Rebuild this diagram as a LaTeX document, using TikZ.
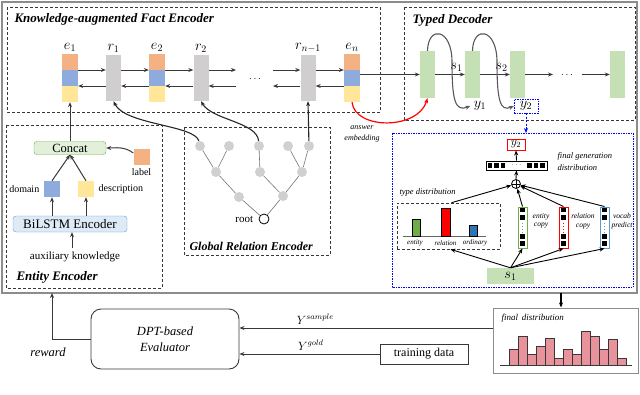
\documentclass[tikz,border=0pt]{standalone}
\usepackage{fontspec}
\setmainfont{Liberation Serif}
\usetikzlibrary{arrows.meta, positioning}
\definecolor{lineGray}{HTML}{383838}
\definecolor{frameGray}{HTML}{8C8C8C}
\definecolor{entOrange}{HTML}{F4B183}
\definecolor{entBlue}{HTML}{8FAADC}
\definecolor{entYellow}{HTML}{FFE699}
\definecolor{relGray}{HTML}{D0CECE}
\definecolor{decGreen}{HTML}{C5E0B4}
\definecolor{catGreen}{HTML}{E2F0D9}
\definecolor{catBorder}{HTML}{70AD47}
\definecolor{lstmBlue}{HTML}{DEEBF7}
\definecolor{lstmBorder}{HTML}{5B9BD5}
\definecolor{treeGray}{HTML}{D0D0D0}
\definecolor{barBlue}{HTML}{2E75B6}
\definecolor{histPink}{HTML}{E8939C}

\tikzset{
  module/.style={draw=lineGray, dash pattern=on 3pt off 2pt, line width=0.6pt},
  modtitle/.style={anchor=west, font=\fontsize{13}{15}\selectfont\bfseries\itshape},
  ent/.style={minimum width=16pt, minimum height=48pt, inner sep=0pt, path picture={
      \fill[entYellow] (path picture bounding box.south west) rectangle (path picture bounding box.north east);
      \fill[entBlue] ([yshift=16pt]path picture bounding box.south west) rectangle (path picture bounding box.north east);
      \fill[entOrange] ([yshift=32pt]path picture bounding box.south west) rectangle (path picture bounding box.north east);}},
  rel/.style={fill=relGray, minimum width=15pt, minimum height=46pt, inner sep=0pt},
  dec/.style={fill=decGreen, minimum width=15pt, minimum height=47pt, inner sep=0pt},
  flow/.style={->, draw=lineGray, line width=1pt},
  leaf/.style={circle, fill=treeGray, minimum size=10pt, inner sep=0pt},
  smallit/.style={font=\fontsize{7.5}{8.5}\selectfont\itshape, align=center},
  mathlbl/.style={font=\fontsize{14}{16}\selectfont},
  sq/.style={minimum size=16pt, inner sep=0pt},
  cvec/.style={draw=#1, line width=1pt, fill=white, minimum width=9pt, minimum height=41pt, inner sep=0pt},
}

% squares inside a column vector
\newcommand{\vecfill}[2]{%
  \foreach \dy in {17.5,10,-9,-16}
    \fill[black] ([yshift=\dy pt]#1.center) ++(-2.2,-2.2) rectangle ++(4.4,4.4);
  \draw[#2, line width=1pt, dotted] ([yshift=5pt]#1.center) -- ([yshift=-4.5pt]#1.center);
}

\begin{document}
\begin{tikzpicture}[x=1pt, y=-1pt, font=\fontsize{10}{12}\selectfont, >={Stealth[length=5pt,width=4pt]}]
  \useasboundingbox (0,0) rectangle (640,394);

  % outer frame and modules
  \draw[frameGray, line width=1.2pt] (2,2) rectangle (637,293);
  \draw[module] (7,7) rectangle (380,112);
  \node[modtitle] at (11,19) {Knowledge-augmented Fact Encoder};
  \draw[module] (404,7) rectangle (635,120);
  \node[modtitle] at (409,20) {Typed Decoder};
  \draw[module] (6,125) rectangle (162,288);
  \node[modtitle] at (13,277) {Entity Encoder};
  \draw[module] (184,127) rectangle (330,255);
  \node[modtitle, font=\fontsize{12}{14}\selectfont\bfseries\itshape] at (186,246) {Global Relation Encoder};
  \draw[blue, dash pattern=on 1.5pt off 1pt, line width=0.6pt] (392,133) rectangle (633,287);

  % Fact encoder chain
  \node[ent] (e1) at (70,78) {};
  \node[rel] (r1) at (113.5,78) {};
  \node[ent] (e2) at (157,78) {};
  \node[rel] (r2) at (201,78) {};
  \node[rel] (rn) at (308,78) {};
  \node[ent] (en) at (352,78) {};
  \coordinate (gapL) at (236,78);
  \coordinate (gapR) at (273,78);
  \node at (255,79) {$\cdots$};
  \foreach \blk/\txt in {e1/e_1, r1/r_1, e2/e_2, r2/r_2, rn/r_{n-1}, en/e_n}
    \node[above=-1pt of \blk, mathlbl] {$\txt$};
  \foreach \a/\b in {e1/r1, r1/e2, e2/r2, rn/en} {
    \draw[flow] ([yshift=8pt]\a.east) -- ([yshift=8pt]\b.west);
    \draw[flow] ([yshift=-8pt]\b.west) -- ([yshift=-8pt]\a.east);
  }
  \draw[flow] ([yshift=8pt]r2.east) -- ([yshift=8pt]gapL);
  \draw[flow] ([yshift=-8pt]gapL) -- ([yshift=-8pt]r2.east);
  \draw[flow] ([yshift=8pt]gapR) -- ([yshift=8pt]rn.west);
  \draw[flow] ([yshift=-8pt]rn.west) -- ([yshift=-8pt]gapR);

  % Typed decoder
  \node[dec] (dec1) at (427.5,74.5) {};
  \node[dec] (dec2) at (472.5,74.5) {};
  \node[dec] (dec3) at (517.5,74.5) {};
  \node[dec] (dec4) at (617.5,74.5) {};
  \coordinate (dgapL) at (553,74.5);
  \coordinate (dgapR) at (582,74.5);
  \node at (567,75) {$\cdots$};
  \node[mathlbl] (y1) at (480,106) {$y_1$};
  \node[draw=blue, dash pattern=on 1.5pt off 1pt, minimum width=24pt, minimum height=14pt, inner sep=0pt,
        mathlbl] (y2b) at (526,106) {$y_2$};
  \draw[flow] (en.east |- dec1.west) -- (dec1.west);
  \draw[flow] (dec1) -- node[pos=0.72, above=-1pt, mathlbl] {$s_1$} (dec2);
  \draw[flow] (dec2) -- node[pos=0.72, above=-1pt, mathlbl] {$s_2$} (dec3);
  \draw[flow] (dec3) -- (dgapL);
  \draw[flow] (dgapR) -- (dec4);
  \draw[->, draw=black!65, line width=1.1pt] (dec1.north) .. controls (428,25) and (452,28) .. (452,62)
    .. controls (452,100) and (455,112) .. (y1.west);
  \draw[->, draw=black!65, line width=1.1pt] (dec2.north) .. controls (473,25) and (497,28) .. (497,62)
    .. controls (497,100) and (500,112) .. (y2b.west);

  % answer embedding
  \draw[->, red, line width=1.2pt] (en.south) .. controls (355,130) and (418,130) .. (dec1.south);
  \node[smallit, font=\fontsize{8}{11}\selectfont\itshape] at (362,134) {answer\\embedding};

  % Entity encoder
  \node[draw=catBorder, fill=catGreen, rounded corners=3pt, minimum width=72pt, minimum height=13pt, inner sep=0pt,
        font=\fontsize{12.5}{14}\selectfont] (concat) at (70,148) {Concat};
  \node[sq, fill=entOrange] (lbl) at (141.5,157) {};
  \node[below=0pt of lbl] {label};
  \node[sq, fill=entBlue] (dom) at (52,189) {};
  \node[left=1pt of dom] {domain};
  \node[sq, fill=entYellow] (desc) at (86,189) {};
  \node[right=1pt of desc] {description};
  \node[draw=lstmBorder, fill=lstmBlue, rounded corners=3pt, minimum width=114pt, minimum height=16pt, inner sep=0pt,
        font=\fontsize{13}{15}\selectfont] (bilstm) at (70,224) {BiLSTM Encoder};
  \node[font=\fontsize{11}{13}\selectfont] (aux) at (75,257) {auxiliary knowledge};
  \draw[flow] (aux.north -| 72,0) -- (bilstm.south -| 72,0);
  \draw[flow] (bilstm.north -| dom) -- (dom.south);
  \draw[flow] (bilstm.north -| desc) -- (desc.south);
  \draw[flow] (dom.north) -- (concat.south);
  \draw[flow] (desc.north) -- (concat.south);
  \draw[flow] ([yshift=4pt]lbl.west) .. controls (124,146) and (115,148) .. (concat.east);
  \draw[flow] (concat.north) -- (e1.south);

  % Global relation tree
  \node[leaf] (t1) at (200,146) {};
  \node[leaf] (t2) at (229,146) {};
  \node[leaf] (t3) at (259,146) {};
  \node[leaf] (t4) at (288,146) {};
  \node[leaf] (t5) at (309,146) {};
  \node[leaf] (m1) at (216,172) {};
  \node[leaf] (m2) at (260,172) {};
  \node[leaf] (m3) at (302,172) {};
  \node[leaf] (b1) at (239,197) {};
  \node[leaf] (b2) at (283,196) {};
  \node[circle, draw=black, fill=white, line width=0.8pt, minimum size=10pt, inner sep=0pt] (root) at (264,219) {};
  \node[left=2pt of root, font=\fontsize{11}{13}\selectfont] {root};
  \foreach \u/\v in {t1/m1, t2/m1, t3/m2, t4/m3, t5/m3, m1/b1, m2/b2, m3/b2, b1/root, b2/root}
    \draw[black!55, line width=0.6pt] (\u) -- (\v);
  \draw[->, line width=1.1pt, draw=black!85] (t1) .. controls (195,125) and (125,125) .. (r1.south);
  \draw[->, line width=1.1pt, draw=black!85] (t3) .. controls (257,122) and (212,120) .. (r2.south);
  \draw[->, line width=1.1pt, draw=black!85] (t5) -- (rn.south);

  % generation
  \coordinate (genN) at (526,133);
  \draw[->, blue, dash pattern=on 2pt off 1.5pt, line width=0.8pt] (y2b.south) -- (genN);
  \node[draw=red, line width=0.8pt, minimum width=18pt, minimum height=11pt, inner sep=0pt,
        font=\fontsize{12}{13}\selectfont] (y2r) at (516,144.5) {$y_2$};
  \node[draw=black, line width=0.8pt, minimum width=61pt, minimum height=9pt, inner sep=0pt] (vec) at (516.5,165.5) {};
  \foreach \dx in {-26.5,-20,-13.5,13,19.5,26}
    \fill[black] ([xshift=\dx pt]vec.center) ++(-2.2,-2.2) rectangle ++(4.4,4.4);
  \node[font=\fontsize{7}{8}\selectfont] at (516.5,165) {$\cdots$};
  \node[smallit, font=\fontsize{8.5}{11.5}\selectfont\itshape, anchor=north west, align=left] at (554,149) {final generation\\distribution};
  \node[circle, draw=black, line width=0.8pt, minimum size=9pt, inner sep=0pt,
        path picture={\draw (path picture bounding box.north) -- (path picture bounding box.south)
                        (path picture bounding box.west) -- (path picture bounding box.east);}] (oplus) at (516,184) {};
  \draw[->, line width=0.9pt] (oplus.north) -- (vec.south);
  \draw[->, line width=0.9pt] (vec.north) -- (y2r.south);

  % type distribution
  \node[smallit, font=\fontsize{8.5}{10}\selectfont\itshape, anchor=west] at (396,192) {type distribution};
  \node[module, minimum width=103pt, minimum height=46pt, inner sep=0pt] (tdist) at (448.5,226) {};
  \draw[black!60, line width=0.8pt] (403,236) -- (486,236);
  \draw[fill=catBorder, line width=0.6pt] (412,236) rectangle (420,219);
  \draw[fill=red, line width=0.6pt] (441,236) rectangle (450,208);
  \draw[fill=barBlue, line width=0.6pt] (469,236) rectangle (477,225);
  \node[smallit, font=\fontsize{7}{8}\selectfont\itshape] at (415,243) {entity};
  \node[smallit, font=\fontsize{7}{8}\selectfont\itshape] at (445.5,243) {relation};
  \node[smallit, font=\fontsize{7}{8}\selectfont\itshape] at (475,243) {ordinary};

  % copy / predict vectors
  \node[cvec=catBorder] (vent) at (522.5,227.5) {};
  \node[cvec=red] (vrel) at (563.5,227.5) {};
  \node[cvec=lstmBorder] (voc) at (604.5,227.5) {};
  \vecfill{vent}{catBorder}
  \vecfill{vrel}{red}
  \vecfill{voc}{lstmBorder}
  \node[smallit] at (541,221) {entity\\copy};
  \node[smallit] at (583,221) {relation\\copy};
  \node[smallit] at (622,221) {vocab\\predict};

  \node[fill=decGreen, minimum width=47pt, minimum height=16pt, inner sep=0pt, mathlbl] (s1) at (510.5,276) {$s_1$};
  \foreach \v in {vent, vrel, voc}
    \draw[->, line width=0.9pt] (\v.north) -- (oplus);
  \draw[->, line width=0.9pt] ([xshift=3pt]tdist.north) -- (oplus);
  \draw[->, line width=0.9pt] (s1.north) -- ([xshift=2pt]tdist.south);
  \foreach \v in {vent, vrel, voc}
    \draw[->, line width=0.9pt] (s1.north) -- (\v.south);

  % bottom: evaluator and final distribution
  \node[draw=lineGray, line width=0.9pt, rounded corners=10pt, minimum width=148pt, minimum height=60pt,
        font=\fontsize{12.5}{16}\selectfont\itshape, align=center] (dpt) at (165,339) {DPT-based\\Evaluator};
  \node[draw=lineGray, line width=0.8pt, minimum width=88pt, minimum height=20pt, inner sep=0pt,
        font=\fontsize{12}{13}\selectfont] (train) at (424,354) {training data};
  \node[draw=frameGray, line width=1pt, minimum width=145pt, minimum height=65pt, inner sep=0pt] (fdist) at (565.5,340.5) {};
  \node[smallit, font=\fontsize{9}{11}\selectfont\itshape, anchor=west] at (498,318) {final\, distribution};
  \draw[lineGray, line width=0.7pt] (500,365) -- (632,365);
  \foreach \h [count=\i from 0] in {16,29,10.7,18.3,26.7,6.7,15.7,11,34,28.3,15.7,25.7,6.7}
    \draw[lineGray, fill=histPink, line width=0.7pt] (509+9*\i,365) rectangle ++(9,-\h);

  \coordinate (frameS) at (561,293);
  \draw[->, line width=1.1pt] (frameS) -- (fdist.north -| frameS);
  \coordinate (ysamp) at (0,328);
  \draw[flow, line width=0.8pt] (fdist.west |- ysamp) -- (dpt.east |- ysamp)
    node[pos=0.70, above, font=\fontsize{12}{14}\selectfont] {$Y^{sample}$};
  \draw[flow, line width=0.8pt] (train.west) -- (dpt.east |- train.west)
    node[pos=0.49, above, font=\fontsize{12}{14}\selectfont] {$Y^{gold}$};
  \coordinate (rwd) at (52,293);
  \draw[flow] (dpt.west) -| (rwd);
  \node[font=\fontsize{12.5}{14}\selectfont\itshape] at (48,352) {reward};
\end{tikzpicture}
\end{document}
